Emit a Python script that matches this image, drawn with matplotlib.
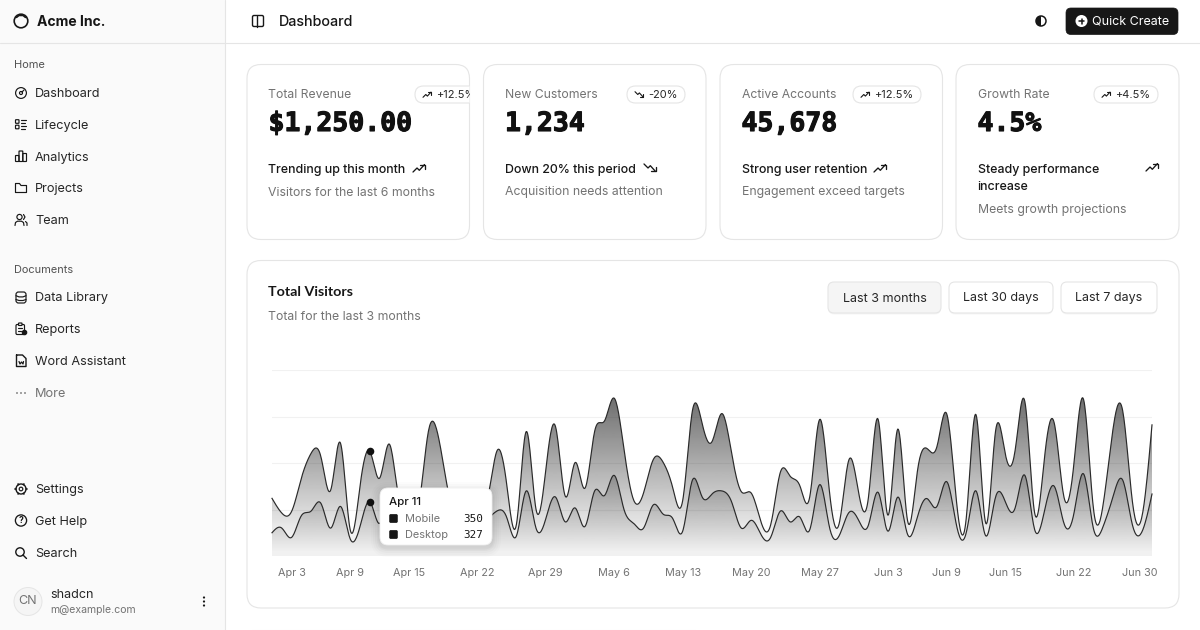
import numpy as np
import pandas as pd
import matplotlib
matplotlib.use("Agg")
import matplotlib.pyplot as plt
import matplotlib.dates as mdates
from matplotlib.patches import FancyBboxPatch, Circle, Polygon, Wedge
from matplotlib.transforms import ScaledTranslation, Bbox
import matplotlib.patheffects as pe

start_date = "2024-04-01"
end_date = "2024-06-30"
desktop = [222,97,167,242,373,301,245,409,59,261,327,292,342,137,120,138,446,364,243,89,137,224,138,387,215,75,383,122,315,454,
           165,293,247,385,481,498,388,149,227,293,335,197,197,448,473,338,499,315,235,177,82,81,252,294,201,213,420,233,78,340,178,
           178,470,103,439,88,294,323,385,438,155,92,492,81,426,307,371,475,107,341,408,169,317,480,132,141,434,448,149,103,446]
mobile = [150,180,120,260,290,340,180,320,110,190,350,210,380,220,170,190,360,410,180,150,200,170,230,290,250,130,420,180,240,380,
          220,310,190,420,390,520,300,210,180,330,270,240,160,490,380,400,420,350,180,230,140,120,290,220,250,170,460,190,130,280,230,
          200,410,160,380,140,250,370,320,480,200,150,420,130,380,350,310,520,170,290,450,210,270,530,180,190,380,490,200,160,400]
tick_dates = ["2024-04-03","2024-04-09","2024-04-15","2024-04-22","2024-04-29","2024-05-06","2024-05-13","2024-05-20",
              "2024-05-27","2024-06-03","2024-06-09","2024-06-15","2024-06-22","2024-06-30"]
tick_labels = ["Apr 3","Apr 9","Apr 15","Apr 22","Apr 29","May 6","May 13","May 20","May 27","Jun 3","Jun 9","Jun 15","Jun 22","Jun 30"]
y_grid = [300, 600, 900, 1200]
y_max = 1200
active_date = "2024-04-11"

nav_main = ["Dashboard", "Lifecycle", "Analytics", "Projects", "Team"]
nav_docs = ["Data Library", "Reports", "Word Assistant", "More"]
nav_foot = ["Settings", "Get Help", "Search"]
card_titles = ["Total Revenue", "New Customers", "Active Accounts", "Growth Rate"]
card_values = ["$1,250.00", "1,234", "45,678", "4.5%"]
card_badges = ["+12.5%", "-20%", "+12.5%", "+4.5%"]
card_heads = ["Trending up this month", "Down 20% this period", "Strong user retention", "Steady performance\nincrease"]
card_subs = ["Visitors for the last 6 months", "Acquisition needs attention", "Engagement exceed targets", "Meets growth projections"]
range_buttons = ["Last 3 months", "Last 30 days", "Last 7 days"]

INK = "#171717"; GRAY = "#737373"; BORDER = "#e5e5e5"
UI = ["Inter", "DejaVu Sans"]
plt.rcParams["font.family"] = UI

def natural_spline(v, n=16):
    """d3 curveNatural through equally spaced values."""
    v = np.asarray(v, float)
    m = len(v) - 1
    a = np.zeros(m); b = np.zeros(m); r = np.zeros(m)
    a[0] = 0; b[0] = 2; r[0] = v[0] + 2*v[1]
    for i in range(1, m-1):
        a[i] = 1; b[i] = 4; r[i] = 4*v[i] + 2*v[i+1]
    a[m-1] = 2; b[m-1] = 7; r[m-1] = 8*v[m-1] + v[m]
    for i in range(1, m):
        w = a[i]/b[i-1]; b[i] -= w; r[i] -= w*r[i-1]
    p = np.zeros(m); p[m-1] = r[m-1]/b[m-1]
    for i in range(m-2, -1, -1):
        p[i] = (r[i]-p[i+1])/b[i]
    q = np.zeros(m)
    q[m-1] = (v[m]+p[m-1])/2
    q[:m-1] = 2*v[1:m] - p[1:m]
    t = np.linspace(0, 1, n, endpoint=False)[:, None]
    seg = ((1-t)**3*v[:-1] + 3*(1-t)**2*t*p + 3*(1-t)*t**2*q + t**3*v[1:])
    return np.r_[seg.T.ravel(), v[-1]]

fig = plt.figure(figsize=(12, 6.3), dpi=100, facecolor="white")

# ---------- pixel-space chrome
ui = fig.add_axes([0, 0, 1, 1], zorder=0)
ui.set_xlim(0, 1200); ui.set_ylim(630, 0); ui.axis("off")

def T(x, y, s, px=13, c=INK, w="normal", ha="left", va="center", ax=ui, fam=None, **k):
    return ax.text(x, y + 1, s, fontsize=px*0.72, color=c, fontweight=w, ha=ha, va=va,
                   family=fam if fam else UI, **k)

def box(x0, y0, x1, y1, r, fc="white", ec=BORDER, lw=0.8, ax=ui, z=1, alpha=None):
    p = FancyBboxPatch((x0, y0), x1-x0, y1-y0, boxstyle=f"round,pad=0,rounding_size={r}",
                       fc=fc, ec=ec, lw=lw, zorder=z, alpha=alpha)
    ax.add_patch(p)
    return p

def L(pts, lw=1.0, c=INK, z=3, ax=ui):
    xs, ys = zip(*pts)
    ax.plot(xs, ys, color=c, lw=lw, zorder=z, solid_capstyle="round", solid_joinstyle="round")

def ring(x, y, r, lw=1.0, c=INK, fc="none", z=3):
    ui.add_patch(Circle((x, y), r, fc=fc, ec=c, lw=lw, zorder=z))

# sidebar & header
ui.fill_between([0, 225], 0, 630, color="#fafafa", lw=0, zorder=0)
L([(225, 0), (225, 630)], 0.8, BORDER, 1)
L([(0, 42.5), (1200, 42.5)], 0.8, BORDER, 1)

# logo
ring(21, 21, 6.8, 1.2)
L([(16.5, 17.5), (19, 15.5), (23, 15.5), (25.5, 17.5)], 1.1)
T(37, 21, "Acme Inc.", 14, w="bold")

def trend(x, y, s=1.0, up=True, lw=0.9):
    sgn = 1 if up else -1
    P = [(0, 3.5), (3.5, 0), (5.5, 2), (10, -3)]
    H = [(6.5, -3), (10, -3), (10, 0.5)]
    L([(x+a*s, y+sgn*b*s) for a, b in P], lw)
    L([(x+a*s, y+sgn*b*s) for a, b in H], lw)

def icon(name, x, y):
    lw = 0.85
    if name == "Dashboard":
        ring(x, y, 5.4, lw); ring(x, y, 1.5, lw); L([(x+1, y-1), (x+3, y-3)], lw)
    elif name == "Lifecycle":
        for yy in (y-3, y+2.5):
            box(x-5.5, yy-1.8, x-2, yy+1.8, 0.6, fc="none", ec=INK, lw=lw, z=3)
        for yy, e in ((y-4.5, 5), (y-1.5, 3.5), (y+1.5, 5), (y+4.5, 3.5)):
            L([(x, yy), (x+e, yy)], lw)
    elif name == "Analytics":
        box(x-5.5, y-1, x-2, y+5, 0.5, fc="none", ec=INK, lw=lw, z=3)
        box(x-2, y-5.5, x+1.8, y+5, 0.5, fc="none", ec=INK, lw=lw, z=3)
        box(x+1.8, y-3, x+5.5, y+5, 0.5, fc="none", ec=INK, lw=lw, z=3)
    elif name == "Projects":
        L([(x-5.5, y+4.5), (x-5.5, y-4.5), (x-1.5, y-4.5), (x, y-2.5), (x+5.5, y-2.5), (x+5.5, y+4.5), (x-5.5, y+4.5)], lw)
    elif name == "Team":
        ring(x-1.5, y-3, 2.6, lw)
        L([(x-6, y+5.5), (x-5.5, y+2.5), (x-3.5, y+1.2), (x+0.5, y+1.2), (x+2.5, y+2.5), (x+3, y+5.5)], lw)
        L([(x+2.5, y-5.5), (x+4, y-3), (x+2.5, y-0.5)], lw)
        L([(x+4.5, y+1.5), (x+6, y+3), (x+6, y+5.5)], lw)
    elif name == "Data Library":
        box(x-5, y-5.5, x+5, y+5.5, 2.5, fc="none", ec=INK, lw=lw, z=3)
        L([(x-5, y-1.8), (x-2, y-0.6), (x+2, y-0.6), (x+5, y-1.8)], lw)
        L([(x-5, y+2), (x-2, y+3), (x+2, y+3), (x+5, y+2)], lw)
    elif name == "Reports":
        box(x-5, y-4.5, x+3.5, y+5.5, 1.2, fc="none", ec=INK, lw=lw, z=3)
        box(x-2.5, y-6, x+1, y-3.5, 0.6, fc="#fafafa", ec=INK, lw=lw, z=3)
        L([(x-3, y-1), (x+1, y-1)], lw); L([(x-3, y+2), (x, y+2)], lw)
        ring(x+3.5, y+3.5, 2.2, lw, fc=INK, z=4)
    elif name == "Word Assistant":
        L([(x-4.5, y-6), (x+1.5, y-6), (x+5, y-2.5), (x+5, y+5.5), (x-4.5, y+5.5), (x-4.5, y-6)], 1.0)
        L([(x-2, y+0.5), (x-1, y+3), (x+0.5, y+1), (x+2, y+3), (x+2.5, y+0.5)], 0.9)
    elif name == "More":
        for d in (-4, 0, 4):
            ui.add_patch(Circle((x+d, y), 0.9, fc=GRAY, ec="none", zorder=3))
    elif name == "Settings":
        ring(x, y, 5.0, 1.0); ring(x, y, 1.8, lw)
        for a in np.deg2rad(np.arange(0, 360, 60)):
            L([(x+5.0*np.cos(a), y+5.0*np.sin(a)), (x+5.8*np.cos(a), y+5.8*np.sin(a))], 1.2)
    elif name == "Get Help":
        ring(x, y, 5.6, 0.95)
        T(x, y-1.1, "?", 8.5, w="bold", ha="center", zorder=4)
    elif name == "Search":
        ring(x-1, y-1, 4.2, 1.0); L([(x+2, y+2), (x+5.5, y+5.5)], 1.0)

T(14, 64, "Home", 11, "#525252")
for name, y in zip(nav_main, [93, 124.5, 156.5, 188, 220]):
    icon(name, 21, y); T(35, y, name, 12.7, "#262626")
T(14, 269, "Documents", 11, "#525252")
for name, y in zip(nav_docs, [297.5, 329, 361, 393]):
    icon(name, 21, y); T(35, y, name, 12.7, GRAY if name == "More" else "#262626")
for name, y in zip(nav_foot, [489, 520.5, 553]):
    icon(name, 21, y); T(35, y, name, 12.7, "#262626")

ui.add_patch(Circle((28, 601.5), 14, fc="#f5f5f5", ec=BORDER, lw=0.7, zorder=2))
T(28, 600.5, "CN", 12.5, "#737373", ha="center", zorder=3)
T(50, 594.5, "shadcn", 12.5, "#262626", zorder=3)
T(50, 609, "m@example.com", 10.5, GRAY, zorder=3)
for d in (-4, 0, 4):
    ui.add_patch(Circle((204, 601.5+d), 1.1, fc=INK, ec="none", zorder=3))

# top bar
box(252.5, 15.5, 263.5, 26.5, 1.5, fc="none", ec=INK, lw=1.0, z=3)
L([(257, 15.5), (257, 26.5)], 1.0)
T(279, 21, "Dashboard", 14.3, w="medium")
ring(1041, 21, 5, 1.1)
ui.add_patch(Wedge((1041, 21), 5, 90, 270, fc=INK, ec="none", zorder=4))
box(1066, 8, 1178, 34.5, 5, fc=INK, ec=INK, lw=0.5, z=2)
ui.add_patch(Circle((1081.5, 21), 6, fc="white", ec="none", zorder=3))
L([(1079, 21), (1084, 21)], 1.1); L([(1081.5, 18.5), (1081.5, 23.5)], 1.1)
T(1092, 20.5, "Quick Create", 12.5, "white", zorder=3)

# KPI cards
cards = [(247, 469.5), (483.5, 706), (720, 942.5), (956, 1179)]
badge_x = [(415, 483), (627, 685), (853, 921), (1094, 1158)]
for i, (x0, x1) in enumerate(cards):
    c = box(x0, 64.5, x1, 239.5, 14)
    tx = x0 + 21.5
    T(tx, 94.5, card_titles[i], 12.2, GRAY, zorder=3)
    bx0, bx1 = badge_x[i]
    b = box(bx0, 86, bx1, 103, 8.5, z=2); b.set_clip_path(c)
    trend(bx0+8, 94.5, 0.8, up=card_badges[i][0] == "+", lw=0.8)
    t = T(bx1-7.5, 93.5, card_badges[i], 11, "#262626", ha="right", zorder=3, clip_on=True)
    t.set_clip_box(Bbox.from_extents(x0, 630-239.5, x1, 630-64.5))
    v = T(tx, 123, card_values[i], 26.5, "#111111", w="bold", fam=["DejaVu Sans Mono"], zorder=3)
    v.set_path_effects([pe.withStroke(linewidth=0.8, foreground="#111111")])
    T(tx, 168.5, card_heads[i].split("\n")[0], 12.4, w="medium", zorder=3)
    if i < 3:
        T(tx, 191.5, card_subs[i], 12.25, GRAY, zorder=3)
    else:
        T(tx, 186.5, card_heads[i].split("\n")[1], 12.4, w="medium", zorder=3)
        T(tx, 209.5, card_subs[i], 12.25, GRAY, zorder=3)
for x, y, up in [(413, 168, True), (644, 168, False), (874, 168, True), (1146, 167, True)]:
    trend(x, y, 1.15, up=up, lw=0.95)

# chart card
box(247, 260.5, 1179, 608, 14)
T(268, 291, "Total Visitors", 14.2, w="bold", fam=["Lato"], zorder=3)
T(268, 315.5, "Total for the last 3 months", 12.25, GRAY, zorder=3)
btns = [(828, 941), (949, 1053), (1061, 1157)]
for i, ((x0, x1), s) in enumerate(zip(btns, range_buttons)):
    box(x0, 283, x1, 314.5, 6, fc="#000000", ec="none", z=2, alpha=0.035)
    box(x0, 282, x1, 313, 6, fc="#f5f5f5" if i == 0 else "white", z=2)
    T((x0+x1)/2, 297.5, s, 12.5, "#262626", ha="center", zorder=3)

# faint top of the next card, cut by the page bottom
L([(252, 629.5), (695, 629.5)], 0.8, "#f0f0f0", 1)

# ---------- chart
ax = fig.add_axes([272/1200, (630-556)/630, 880/1200, 186/630], zorder=1)
ax.patch.set_alpha(0)
dates = pd.date_range(start_date, end_date)
dnum = mdates.date2num(dates)
low = np.array(mobile, float)
top = low + np.array(desktop, float)
N = 16
xs = np.r_[np.ravel(dnum[:-1, None] + np.arange(N)[None, :]/N), dnum[-1]]
s_low, s_top = natural_spline(low, N), natural_spline(top, N)

def grad_fill(lower, upper, a_top, a_bot, z):
    hi = upper.max(); lo = lower.min()
    f = np.clip((np.linspace(0, 1, 256) - 0.05)/0.9, 0, 1)
    img = np.zeros((256, 1, 4)); img[..., :3] = 23/255
    img[:, 0, 3] = a_top + (a_bot - a_top)*f
    im = ax.imshow(img, extent=[dnum[0], dnum[-1], lo, hi], aspect="auto", origin="upper",
                   zorder=z, interpolation="bilinear")
    poly = Polygon(np.c_[np.r_[xs, xs[::-1]], np.r_[upper, lower[::-1]]], closed=True,
                   transform=ax.transData, fc="none", ec="none")
    ax.add_patch(poly)
    im.set_clip_path(poly)

grad_fill(np.zeros_like(s_low), s_low, 0.48, 0.06, 2)
grad_fill(s_low, s_top, 0.6, 0.06, 3)
ax.set_xlim(dnum[0], dnum[-1]); ax.set_ylim(0, y_max)
ax.plot(xs, s_low, color="#2a2a2a", lw=0.85, zorder=4, clip_on=False)
ax.plot(xs, s_top, color="#2a2a2a", lw=0.85, zorder=4, clip_on=False)

ax.set_yticks(y_grid)
ax.yaxis.grid(True, color="#f1f1f1", lw=0.8, zorder=0)
ax.set_axisbelow(True)
ax.tick_params(axis="y", length=0, labelleft=False)
ax.set_xticks(mdates.date2num(pd.to_datetime(tick_dates)))
ax.set_xticklabels(tick_labels)
ax.tick_params(axis="x", length=0, pad=8.6, labelsize=7.8, labelcolor=GRAY)
for s in ax.spines.values():
    s.set_visible(False)
last = ax.get_xticklabels()[-1]
last.set_ha("right")
last.set_transform(last.get_transform() + ScaledTranslation(5/100, 0, fig.dpi_scale_trans))

ai = list(dates.strftime("%Y-%m-%d")).index(active_date)
ax.scatter([dnum[ai]]*2, [low[ai], top[ai]], s=30, c="#111111", zorder=5, clip_on=False, lw=0)

# ---------- tooltip
ov = fig.add_axes([0, 0, 1, 1], zorder=2)
ov.set_xlim(0, 1200); ov.set_ylim(630, 0); ov.axis("off"); ov.patch.set_alpha(0)
for g, a in [(9, 0.012), (7, 0.016), (5, 0.02), (3, 0.025), (1.5, 0.03)]:
    box(380-g, 488-g+3, 492+g, 545+g+3, 8+g, fc="#000000", ec="none", ax=ov, z=1, alpha=a)
box(380, 488, 492, 545, 8, ec="#efefef", lw=0.6, ax=ov, z=2)
T(389, 501, "Apr 11", 11.5, w="medium", ax=ov, zorder=3)
tip_rows = [("Mobile", mobile[ai], 518), ("Desktop", desktop[ai], 534)]
for lab, val, y in tip_rows:
    box(389.5, y-3.7, 397.5, y+4.7, 1.5, fc=INK, ec=INK, lw=0.4, ax=ov, z=3)
    T(405, y, lab, 11, GRAY, ax=ov, zorder=3)
    T(483, y, str(val), 11, INK, ha="right", ax=ov, fam=["DejaVu Sans Mono"], zorder=3)

fig.savefig("out.png", dpi=100)
